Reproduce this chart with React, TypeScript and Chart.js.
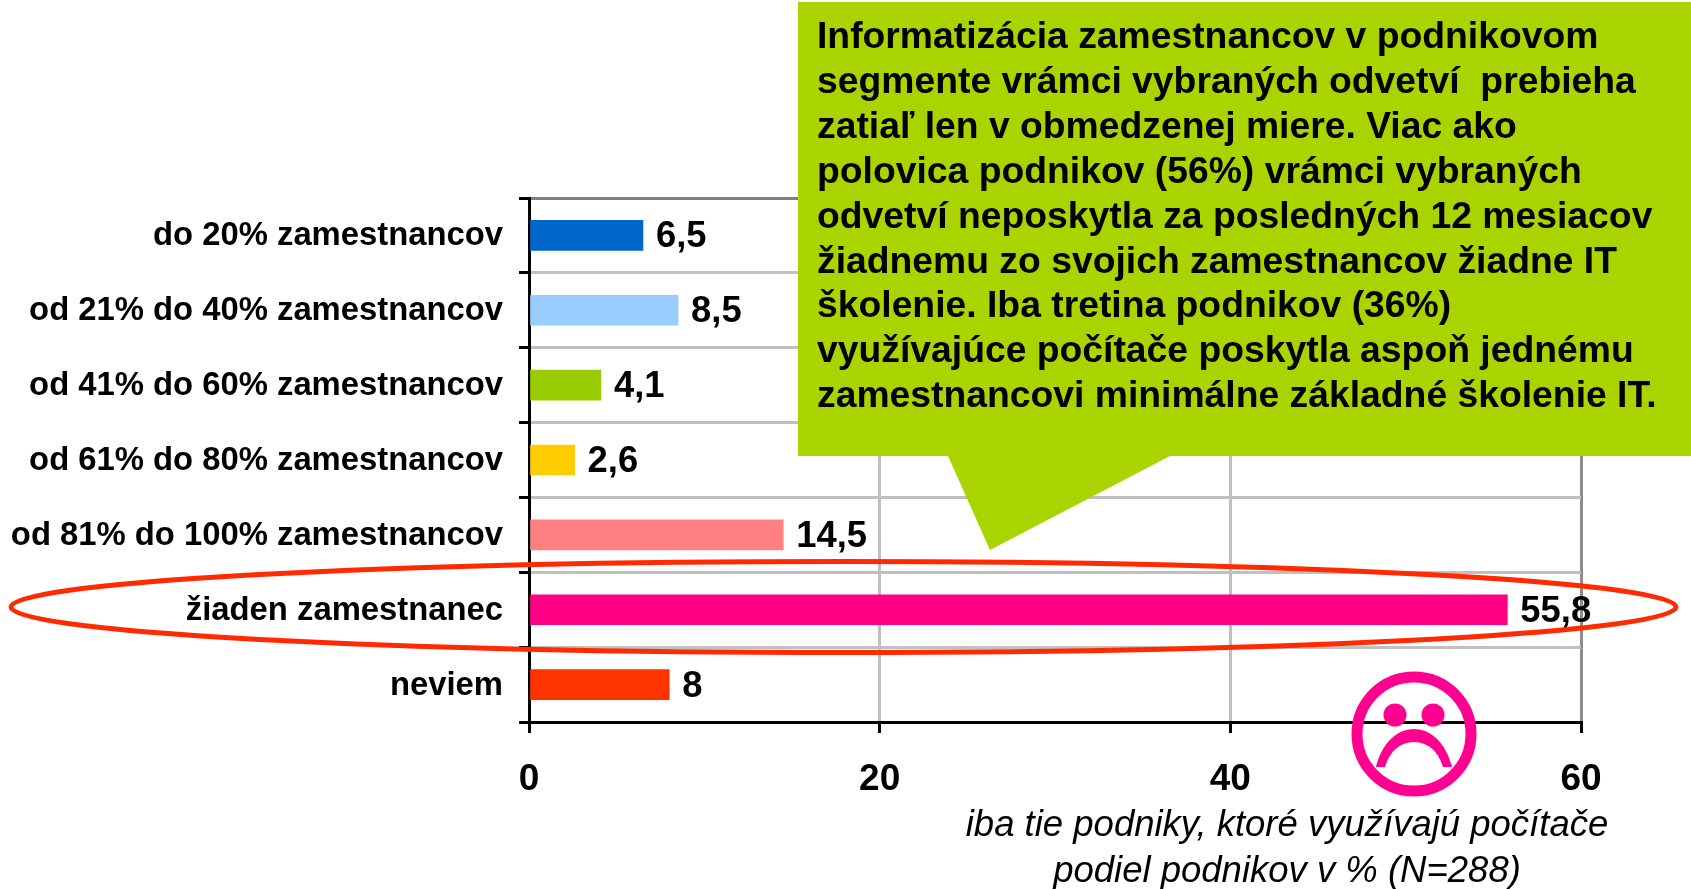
import React, { useEffect, useRef } from "react";
import { Chart, registerables } from "chart.js";

Chart.register(...registerables);

const categories = [
  "do 20% zamestnancov",
  "od 21% do 40% zamestnancov",
  "od 41% do 60% zamestnancov",
  "od 61% do 80% zamestnancov",
  "od 81% do 100% zamestnancov",
  "žiaden zamestnanec",
  "neviem",
];
const shares = [6.5, 8.5, 4.1, 2.6, 14.5, 55.8, 8];
const barColors = ["#0066CC", "#99CCFF", "#99CC00", "#FFCC00", "#FF8080", "#FF0084", "#FF3300"];
const calloutLines = [
  "Informatizácia zamestnancov v podnikovom",
  "segmente vrámci vybraných odvetví  prebieha",
  "zatiaľ len v obmedzenej miere. Viac ako",
  "polovica podnikov (56%) vrámci vybraných",
  "odvetví neposkytla za posledných 12 mesiacov",
  "žiadnemu zo svojich zamestnancov žiadne IT",
  "školenie. Iba tretina podnikov (36%)",
  "využívajúce počítače poskytla aspoň jednému",
  "zamestnancovi minimálne základné školenie IT.",
];
const captionLines = ["iba tie podniky, ktoré využívajú počítače", "podiel podnikov v % (N=288)"];

const FONT = '"Liberation Sans", Arial, sans-serif';

const valueLabels = {
  id: "valueLabels",
  afterDatasetsDraw(chart: any) {
    const { ctx } = chart;
    const meta = chart.getDatasetMeta(0);
    ctx.save();
    ctx.fillStyle = "#000";
    ctx.font = `bold 36.4px ${FONT}`;
    ctx.textBaseline = "middle";
    ctx.textAlign = "left";
    meta.data.forEach((bar: any, i: number) => {
      ctx.fillText(String(shares[i]).replace(".", ","), bar.x + 13, bar.y + 2);
    });
    ctx.restore();
  },
};

const overlays = {
  id: "overlays",
  afterDraw(chart: any) {
    const { ctx } = chart;
    ctx.save();
    // ellipse
    ctx.strokeStyle = "#FF2A00";
    ctx.lineWidth = 5;
    ctx.beginPath();
    ctx.ellipse(843.5, 607, 832.5, 45.5, 0, 0, Math.PI * 2);
    ctx.stroke();

    // callout
    ctx.fillStyle = "#AAD400";
    ctx.beginPath();
    ctx.moveTo(798, 2);
    ctx.lineTo(1691, 2);
    ctx.lineTo(1691, 456);
    ctx.lineTo(1170, 456);
    ctx.lineTo(990, 550);
    ctx.lineTo(948, 456);
    ctx.lineTo(798, 456);
    ctx.closePath();
    ctx.fill();
    ctx.fillStyle = "#000";
    ctx.font = `bold 37.3px ${FONT}`;
    ctx.textAlign = "left";
    ctx.textBaseline = "middle";
    calloutLines.forEach((line, i) => ctx.fillText(line, 817, 38 + i * 44.85));

    // sad face
    const pink = "#FF0090";
    ctx.strokeStyle = pink;
    ctx.fillStyle = pink;
    ctx.lineWidth = 11;
    ctx.beginPath();
    ctx.arc(1414, 734, 57, 0, Math.PI * 2);
    ctx.stroke();
    [1395, 1433].forEach((x) => {
      ctx.beginPath();
      ctx.arc(x, 715, 11.5, 0, Math.PI * 2);
      ctx.fill();
    });
    ctx.beginPath();
    ctx.moveTo(1376, 767);
    ctx.bezierCurveTo(1382, 743, 1397, 729, 1414, 729);
    ctx.bezierCurveTo(1431, 729, 1446, 743, 1452, 767);
    ctx.lineTo(1443, 767);
    ctx.bezierCurveTo(1438, 751, 1428, 742, 1414, 742);
    ctx.bezierCurveTo(1400, 742, 1390, 751, 1385, 767);
    ctx.closePath();
    ctx.fill();

    // caption
    ctx.fillStyle = "#000";
    ctx.font = `italic 36.5px ${FONT}`;
    ctx.textAlign = "center";
    captionLines.forEach((line, i) => ctx.fillText(line, 1287, 826 + i * 46));
    ctx.restore();
  },
};

export default function App() {
  const ref = useRef<HTMLCanvasElement>(null);
  useEffect(() => {
    const chart = new Chart(ref.current!, {
      type: "bar",
      data: {
        labels: categories,
        datasets: [
          {
            data: shares,
            backgroundColor: barColors,
            barThickness: 30,
            borderWidth: 0,
          },
        ],
      },
      plugins: [valueLabels, overlays],
      options: {
        indexAxis: "y",
        animation: false,
        responsive: false,
        layout: { padding: { left: 0, top: 198, right: 110, bottom: 0 } },
        plugins: { legend: { display: false }, tooltip: { enabled: false } },
        scales: {
          x: {
            min: 0,
            max: 60,
            afterFit: (s: any) => {
              s.height = 167;
            },
            ticks: {
              stepSize: 20,
              color: "#000",
              padding: 25,
              maxRotation: 0,
              font: { family: FONT, size: 37, weight: "bold" },
            },
            grid: {
              color: (c: any) => (c.tick && c.tick.value === 60 ? "#8C8C8C" : "#C0C0C0"),
              lineWidth: 3,
              tickColor: "#000",
              tickLength: 11,
            },
            border: { color: "#000", width: 3 },
          },
          y: {
            afterFit: (s: any) => {
              s.width = 529;
            },
            ticks: {
              color: "#000",
              padding: 16,
              labelOffset: 1,
              autoSkip: false,
              font: { family: FONT, size: 32.8, weight: "bold" },
            },
            grid: {
              offset: true,
              color: (c: any) => (c.index === 0 ? "#808080" : "#C0C0C0"),
              lineWidth: 3,
              tickColor: "#000",
              tickLength: 10,
            },
            border: { color: "#000", width: 3 },
          },
        },
      },
    } as any);
    return () => chart.destroy();
  }, []);
  return (
    <canvas
      ref={ref}
      width={1691}
      height={889}
      style={{ position: "fixed", left: 0, top: 0, width: 1691, height: 889, display: "block" }}
    />
  );
}
